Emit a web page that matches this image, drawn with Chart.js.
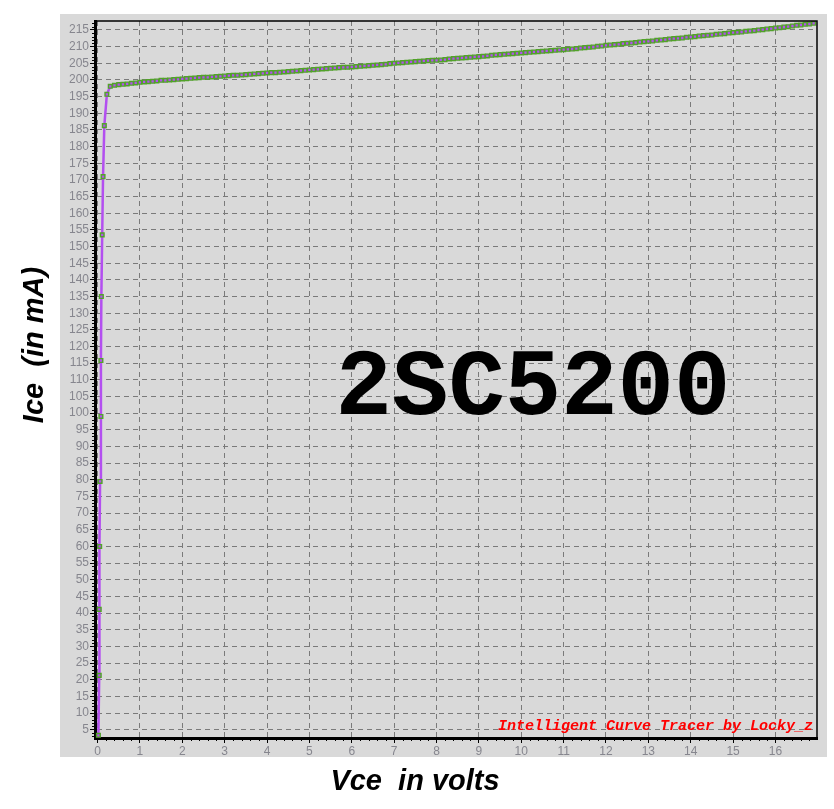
<!DOCTYPE html>
<html>
<head>
<meta charset="utf-8">
<style>
  html, body { margin: 0; padding: 0; background: #ffffff; }
  #curve { display: block; }
</style>
<script src="https://cdn.jsdelivr.net/npm/chart.js@4.4.1/dist/chart.umd.min.js"></script>
</head>
<body>
<canvas id="curve" width="834" height="809"></canvas>
<script>
// Vce (volts) and Ice (mA)
const vce = [
  0.02, 0.04, 0.04, 0.05, 0.06, 0.08, 0.08, 0.09, 0.11, 0.13, 0.16, 0.22,
  0.3, 0.4, 0.5, 0.6, 0.7, 0.8, 0.9, 1.0,
  1.1, 1.2, 1.3, 1.4, 1.5, 1.6, 1.7, 1.8, 1.9, 2.0,
  2.1, 2.2, 2.3, 2.4, 2.5, 2.6, 2.7, 2.8, 2.9, 3.0,
  3.1, 3.2, 3.3, 3.4, 3.5, 3.6, 3.7, 3.8, 3.9, 4.0,
  4.1, 4.2, 4.3, 4.4, 4.5, 4.6, 4.7, 4.8, 4.9, 5.0,
  5.1, 5.2, 5.3, 5.4, 5.5, 5.6, 5.7, 5.8, 5.9, 6.0,
  6.1, 6.2, 6.3, 6.4, 6.5, 6.6, 6.7, 6.8, 6.9, 7.0,
  7.1, 7.2, 7.3, 7.4, 7.5, 7.6, 7.7, 7.8, 7.9, 8.0,
  8.1, 8.2, 8.3, 8.4, 8.5, 8.6, 8.7, 8.8, 8.9, 9.0,
  9.1, 9.2, 9.3, 9.4, 9.5, 9.6, 9.7, 9.8, 9.9, 10.0,
  10.1, 10.2, 10.3, 10.4, 10.5, 10.6, 10.7, 10.8, 10.9, 11.0,
  11.1, 11.2, 11.3, 11.4, 11.5, 11.6, 11.7, 11.8, 11.9, 12.0,
  12.1, 12.2, 12.3, 12.4, 12.5, 12.6, 12.7, 12.8, 12.9, 13.0,
  13.1, 13.2, 13.3, 13.4, 13.5, 13.6, 13.7, 13.8, 13.9, 14.0,
  14.1, 14.2, 14.3, 14.4, 14.5, 14.6, 14.7, 14.8, 14.9, 15.0,
  15.1, 15.2, 15.3, 15.4, 15.5, 15.6, 15.7, 15.8, 15.9, 16.0,
  16.1, 16.2, 16.3, 16.4, 16.5, 16.6, 16.7, 16.8, 16.9
];
const ice = [
  3.3, 21.3, 41.1, 60.0, 79.5, 99.0, 115.8, 135.0, 153.5, 171.0, 186.3, 195.7,
  198.1, 198.4, 198.6, 198.7, 198.8, 199.0, 199.1, 199.3,
  199.4, 199.5, 199.6, 199.7, 199.9, 199.9, 200.0, 200.1, 200.2, 200.3,
  200.4, 200.5, 200.6, 200.7, 200.8, 200.8, 200.9, 201.0, 201.1, 201.2,
  201.3, 201.4, 201.4, 201.5, 201.6, 201.7, 201.8, 201.9, 202.0, 202.1,
  202.2, 202.2, 202.3, 202.4, 202.5, 202.6, 202.7, 202.8, 202.9, 203.0,
  203.1, 203.2, 203.3, 203.4, 203.5, 203.6, 203.7, 203.8, 203.8, 203.9,
  204.0, 204.1, 204.2, 204.3, 204.4, 204.5, 204.6, 204.7, 204.9, 205.0,
  205.1, 205.2, 205.3, 205.4, 205.5, 205.6, 205.7, 205.8, 205.9, 205.9,
  206.0, 206.1, 206.3, 206.4, 206.5, 206.6, 206.7, 206.8, 206.9, 207.0,
  207.1, 207.2, 207.4, 207.5, 207.6, 207.7, 207.8, 207.9, 208.0, 208.1,
  208.2, 208.3, 208.4, 208.5, 208.6, 208.7, 208.8, 208.9, 209.0, 209.1,
  209.2, 209.3, 209.4, 209.6, 209.7, 209.8, 209.9, 210.1, 210.2, 210.4,
  210.5, 210.6, 210.7, 210.9, 211.0, 211.1, 211.2, 211.4, 211.5, 211.6,
  211.7, 211.9, 212.0, 212.1, 212.3, 212.4, 212.5, 212.6, 212.8, 212.9,
  213.0, 213.2, 213.3, 213.4, 213.5, 213.7, 213.8, 213.9, 214.1, 214.2,
  214.3, 214.4, 214.6, 214.7, 214.8, 215.0, 215.1, 215.3, 215.4, 215.6,
  215.7, 215.9, 216.0, 216.2, 216.4, 216.5, 216.7, 216.8, 217.0
];

// axis ranges and tick steps
const xRange = [-0.06, 16.98];
const yRange = [2.5, 217.7];
const xStep = 1, xMinorStep = 0.2;
const yStep = 5, yMinorStep = 1;

const partName = '2SC5200';
const watermark = 'Intelligent Curve Tracer by Locky_z';
const xTitle = 'Vce  in volts';
const yTitle = 'Ice  (in mA)';

const lineColor = '#b34ff0';
const markColor = '#52a22a';
const panelColor = '#d9d9d9';
const tickText = '#86868e';

// gray panel behind the plot, titles, minor ticks and frame
const decorations = {
  id: 'decorations',
  beforeDraw(chart) {
    const ctx = chart.ctx;
    ctx.save();
    ctx.fillStyle = panelColor;
    ctx.fillRect(60, 14, 767, 743);
    ctx.restore();
  },
  afterDraw(chart) {
    const ctx = chart.ctx;
    const area = chart.chartArea;
    const xs = chart.scales.x, ys = chart.scales.y;
    ctx.save();

    // minor ticks
    ctx.strokeStyle = '#000';
    ctx.lineWidth = 1;
    ctx.beginPath();
    for (let i = 1; i * xMinorStep < xs.max; i++) {
      if (i % 5 === 0) continue;
      const px = Math.round(xs.getPixelForValue(i * xMinorStep)) + 0.5;
      ctx.moveTo(px, area.bottom);
      ctx.lineTo(px, area.bottom + 3);
    }
    for (let v = Math.ceil(ys.min); v < ys.max; v += yMinorStep) {
      if (v % 5 === 0) continue;
      const py = Math.round(ys.getPixelForValue(v)) + 0.5;
      ctx.moveTo(area.left - 3, py);
      ctx.lineTo(area.left, py);
    }
    ctx.stroke();

    // top and right frame
    ctx.lineWidth = 1.5;
    ctx.beginPath();
    ctx.moveTo(area.left, area.top);
    ctx.lineTo(area.right, area.top);
    ctx.lineTo(area.right, area.bottom);
    ctx.stroke();

    // part number
    ctx.fillStyle = '#000';
    ctx.font = 'bold 94px "Liberation Mono", "DejaVu Sans Mono", monospace';
    ctx.textAlign = 'center';
    ctx.textBaseline = 'alphabetic';
    ctx.fillText(partName, 533, 414);

    // watermark
    ctx.fillStyle = '#ff0000';
    ctx.font = 'italic bold 15px "Liberation Mono", monospace';
    ctx.textAlign = 'right';
    ctx.fillText(watermark, 813, 730);

    // axis titles
    ctx.fillStyle = '#000';
    ctx.font = 'italic bold 29px "Liberation Sans", Arial, sans-serif';
    ctx.textAlign = 'center';
    ctx.textBaseline = 'middle';
    ctx.fillText(xTitle, 415, 782);
    ctx.translate(35, 345);
    ctx.rotate(-Math.PI / 2);
    ctx.fillText(yTitle, 0, 0);

    ctx.restore();
  }
};

function initCurveChart() {
  const canvas = document.getElementById('curve');
  const points = vce.map((v, i) => ({ x: v, y: ice[i] }));

  new Chart(canvas, {
    type: 'scatter',
    data: {
      datasets: [{
        data: points,
        showLine: true,
        borderColor: lineColor,
        borderWidth: 2.5,
        pointStyle: 'rect',
        pointRadius: 2.6,
        pointBorderWidth: 1.4,
        pointBorderColor: markColor,
        pointBackgroundColor: lineColor,
        tension: 0
      }]
    },
    options: {
      responsive: false,
      animation: false,
      devicePixelRatio: 1,
      layout: { padding: { left: 60, top: 21, right: 17, bottom: 52 } },
      plugins: { legend: { display: false }, tooltip: { enabled: false } },
      scales: {
        x: {
          type: 'linear',
          min: xRange[0],
          max: xRange[1],
          afterFit: function(scale) { scale.height = 19; },
          border: { display: true, color: '#000', width: 3, dash: [5, 4] },
          grid: {
            color: '#7a7a7a',
            lineWidth: 1,
            tickLength: 5,
            tickColor: '#000',
            tickBorderDash: []
          },
          ticks: {
            stepSize: xStep,
            includeBounds: false,
            color: tickText,
            padding: 1,
            font: { family: '"Liberation Sans", Arial, sans-serif', size: 12 },
            maxRotation: 0,
            autoSkip: false
          }
        },
        y: {
          type: 'linear',
          min: yRange[0],
          max: yRange[1],
          afterFit: function(scale) { scale.width = 35; },
          border: { display: true, color: '#000', width: 3, dash: [5, 4] },
          grid: {
            color: '#7a7a7a',
            lineWidth: 1,
            tickLength: 5,
            tickColor: '#000',
            tickBorderDash: []
          },
          ticks: {
            stepSize: yStep,
            includeBounds: false,
            color: tickText,
            padding: 1,
            font: { family: '"Liberation Sans", Arial, sans-serif', size: 12 },
            autoSkip: false
          }
        }
      }
    },
    plugins: [decorations]
  });
}

document.addEventListener('DOMContentLoaded', initCurveChart);
</script>
</body>
</html>
